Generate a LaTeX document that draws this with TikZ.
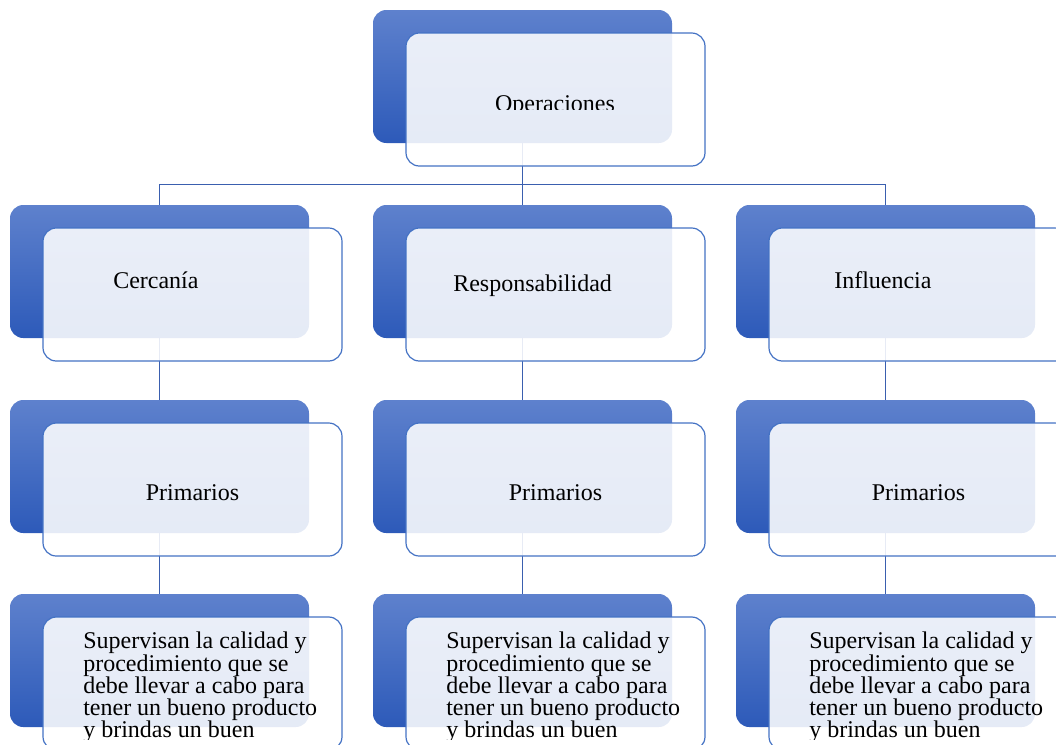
\documentclass[tikz,border=0pt]{standalone}
\usepackage{fontspec}
\setmainfont{Liberation Serif}
\definecolor{bluetop}{RGB}{94,129,205}
\definecolor{bluebot}{RGB}{45,90,185}
\definecolor{edgeblue}{RGB}{68,114,196}
\definecolor{wireblue}{RGB}{58,95,175}
\begin{document}
\begin{tikzpicture}[x=0.75pt,y=-0.75pt,
  backbox/.style={rectangle, rounded corners=10pt, minimum width=224.25pt, minimum height=99.75pt, inner sep=0pt, top color=bluetop, bottom color=bluebot, draw=none},
  frontbox/.style={rectangle, rounded corners=10pt, minimum width=224.25pt, minimum height=99.75pt, inner sep=0pt, fill=white, fill opacity=0.88, draw=edgeblue, line width=0.9pt},
  lbl/.style={font=\fontsize{18}{16.6}\selectfont, inner sep=0pt, text=black},
  wire/.style={draw=wireblue, line width=0.9pt}]
\useasboundingbox (0,0) rectangle (1056,744);
\clip (0,0) rectangle (1056,744);
% back boxes
\node[backbox] (b0) at (522.5,76.5) {};
\node[backbox] (b1) at (159.5,271.5) {};
\node[backbox] (b2) at (522.5,271.5) {};
\node[backbox] (b3) at (885.5,271.5) {};
\node[backbox] (p1) at (159.5,466.5) {};
\node[backbox] (p2) at (522.5,466.5) {};
\node[backbox] (p3) at (885.5,466.5) {};
\node[backbox] (s1) at (159.5,660.5) {};
\node[backbox] (s2) at (522.5,660.5) {};
\node[backbox] (s3) at (885.5,660.5) {};
% connectors
\draw[wire] (b0.south) -- (b2.north);
\draw[wire] (b1.north) -- ++(0,-20) -| (b3.north);
\draw[wire] (b1.south) -- (p1.north);
\draw[wire] (b2.south) -- (p2.north);
\draw[wire] (b3.south) -- (p3.north);
\draw[wire] (p1.south) -- (s1.north);
\draw[wire] (p2.south) -- (s2.north);
\draw[wire] (p3.south) -- (s3.north);
% front boxes
\node[frontbox] (f0) at (555.5,99.5) {};
\node[frontbox] (g1) at (192.5,294.5) {};
\node[frontbox] (g2) at (555.5,294.5) {};
\node[frontbox] (g3) at (918.5,294.5) {};
\node[frontbox] (h1) at (192.5,489.5) {};
\node[frontbox] (h2) at (555.5,489.5) {};
\node[frontbox] (h3) at (918.5,489.5) {};
\node[frontbox] (k1) at (192.5,683.5) {};
\node[frontbox] (k2) at (555.5,683.5) {};
\node[frontbox] (k3) at (918.5,683.5) {};
% texts
\begin{scope}
\clip (400,40) rectangle (710,109.5);
\node[lbl, anchor=base] (t0) at (555,111) {Operaciones};
\end{scope}
\node[lbl, anchor=base west] (t1) at (113,288) {Cercanía};
\node[lbl, anchor=base west] (t2) at (453,291) {Responsabilidad};
\node[lbl, anchor=base west] (t3) at (834,288) {Influencia};
\node[lbl, anchor=base] (u1) at (192.5,500) {Primarios};
\node[lbl, anchor=base] (u2) at (555.5,500) {Primarios};
\node[lbl, anchor=base] (u3) at (918.5,500) {Primarios};
\begin{scope}
\clip (0,600) rectangle (1056,739);
\node[lbl, anchor=base west, align=left] (v1) at (83,737.4) {Supervisan la calidad y\\procedimiento que se\\debe llevar a cabo para\\tener un bueno producto\\y brindas un buen};
\node[lbl, anchor=base west, align=left] (v2) at (446,737.4) {Supervisan la calidad y\\procedimiento que se\\debe llevar a cabo para\\tener un bueno producto\\y brindas un buen};
\node[lbl, anchor=base west, align=left] (v3) at (809,737.4) {Supervisan la calidad y\\procedimiento que se\\debe llevar a cabo para\\tener un bueno producto\\y brindas un buen};
\end{scope}
\end{tikzpicture}
\end{document}
